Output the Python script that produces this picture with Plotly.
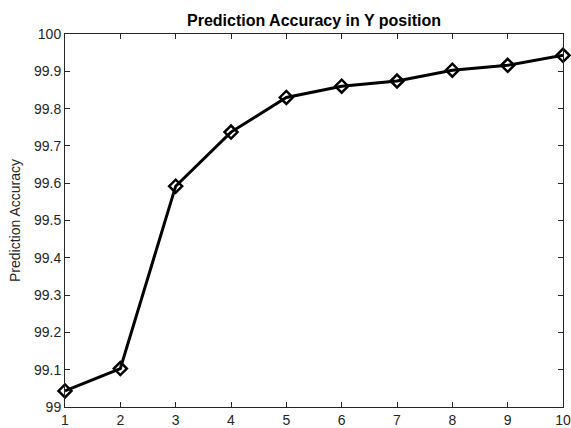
import plotly.graph_objects as go

x_vals = [1, 2, 3, 4, 5, 6, 7, 8, 9, 10]
accuracy = [99.043, 99.103, 99.592, 99.737, 99.830, 99.860, 99.874, 99.903, 99.916, 99.943]
y_ticks = [99, 99.1, 99.2, 99.3, 99.4, 99.5, 99.6, 99.7, 99.8, 99.9, 100]
y_tick_text = ["99", "99.1", "99.2", "99.3", "99.4", "99.5", "99.6", "99.7", "99.8", "99.9", "100"]

FONT = "Arial, Liberation Sans, Helvetica, sans-serif"

fig = go.Figure()
fig.add_trace(go.Scatter(
    x=x_vals, y=accuracy, mode="lines+markers",
    line=dict(color="black", width=3),
    marker=dict(symbol="diamond-open", size=10, color="black", line=dict(width=2.5, color="black")),
    cliponaxis=False,
))

axis_common = dict(
    showline=True, linecolor="#262626", linewidth=1, mirror="ticks",
    ticks="inside", ticklen=5, tickcolor="#262626", tickwidth=1,
    showgrid=False, zeroline=False, automargin=False,
    tickfont=dict(family=FONT, size=14, color="#262626"),
)

fig.update_xaxes(range=[1, 10], tickvals=x_vals, **axis_common)
fig.update_yaxes(range=[99, 100], tickvals=y_ticks, ticktext=y_tick_text,
                 title=dict(text="Prediction Accuracy", font=dict(family=FONT, size=14, color="#262626"), standoff=10),
                 **axis_common)

fig.update_layout(
    width=571, height=428,
    margin=dict(l=65, r=8, t=34, b=21),
    plot_bgcolor="white", paper_bgcolor="white",
    showlegend=False,
    title=dict(text="<b>Prediction Accuracy in Y position</b>", x=(65 + 563) / 2 / 571, xanchor="center", xref="container",
               y=1 - 20 / 428, yanchor="middle",
               font=dict(family=FONT, size=16, color="black")),
)

fig.write_html("out.html")
